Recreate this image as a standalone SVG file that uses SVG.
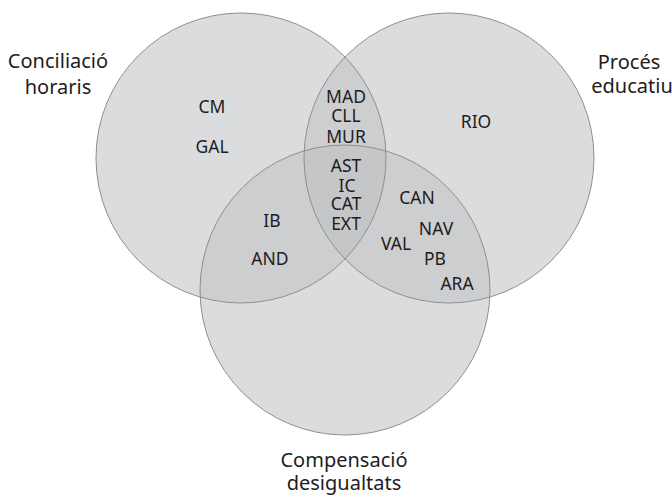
<svg xmlns="http://www.w3.org/2000/svg" width="672" height="495" viewBox="0 0 672 495">
  <style>
    .disc { fill: #dbdcde; }
    .two { fill: #cdced0; }
    .three { fill: #c5c6c8; }
    .ring { fill: none; stroke: #8e8f91; stroke-width: 1; }
    text { font-family: "Noto Sans", "Open Sans", sans-serif; fill: #1e1c1d; text-anchor: middle; }
    .title { font-size: 20px; }
    .item { font-size: 17.5px; }
  </style>
  <defs>
    <clipPath id="clipL"><circle cx="241" cy="158" r="145"/></clipPath>
    <clipPath id="clipR"><circle cx="449" cy="158" r="145"/></clipPath>
    <clipPath id="clipB"><circle cx="345" cy="290" r="145"/></clipPath>
  </defs>
  <rect width="672" height="495" fill="#ffffff"/>

  <!-- set bodies -->
  <g id="set-conciliacio">
    <circle class="disc" cx="241" cy="158" r="145"/>
  </g>
  <g id="set-proces">
    <circle class="disc" cx="449" cy="158" r="145"/>
  </g>
  <g id="set-compensacio">
    <circle class="disc" cx="345" cy="290" r="145"/>
  </g>

  <!-- overlaps: pairwise, then the shared centre -->
  <g id="overlaps">
    <g clip-path="url(#clipL)"><circle class="two" cx="449" cy="158" r="145"/></g>
    <g clip-path="url(#clipL)"><circle class="two" cx="345" cy="290" r="145"/></g>
    <g clip-path="url(#clipR)"><circle class="two" cx="345" cy="290" r="145"/></g>
    <g clip-path="url(#clipL)"><g clip-path="url(#clipR)"><circle class="three" cx="345" cy="290" r="145"/></g></g>
  </g>

  <!-- outlines -->
  <g id="outlines">
    <circle class="ring" cx="241" cy="158" r="145"/>
    <circle class="ring" cx="449" cy="158" r="145"/>
    <circle class="ring" cx="345" cy="290" r="145"/>
  </g>

  <!-- set titles -->
  <g id="titles" class="title">
    <text x="58" y="68">Conciliació</text>
    <text x="58" y="94">horaris</text>
    <text x="629" y="69">Procés</text>
    <text x="632" y="93">educatiu</text>
    <text x="344" y="467">Compensació</text>
    <text x="344" y="490">desigualtats</text>
  </g>

  <!-- members -->
  <g id="members" class="item">
    <text x="212" y="113">CM</text>
    <text x="212" y="153">GAL</text>
    <text x="476" y="128">RIO</text>
    <text x="346" y="103">MAD</text>
    <text x="346" y="122">CLL</text>
    <text x="346" y="143">MUR</text>
    <text x="346" y="172">AST</text>
    <text x="347" y="192">IC</text>
    <text x="346" y="210">CAT</text>
    <text x="346" y="230">EXT</text>
    <text x="272" y="227">IB</text>
    <text x="270" y="265">AND</text>
    <text x="417" y="204">CAN</text>
    <text x="436" y="235">NAV</text>
    <text x="396" y="250">VAL</text>
    <text x="435" y="265">PB</text>
    <text x="457" y="290">ARA</text>
  </g>
</svg>
